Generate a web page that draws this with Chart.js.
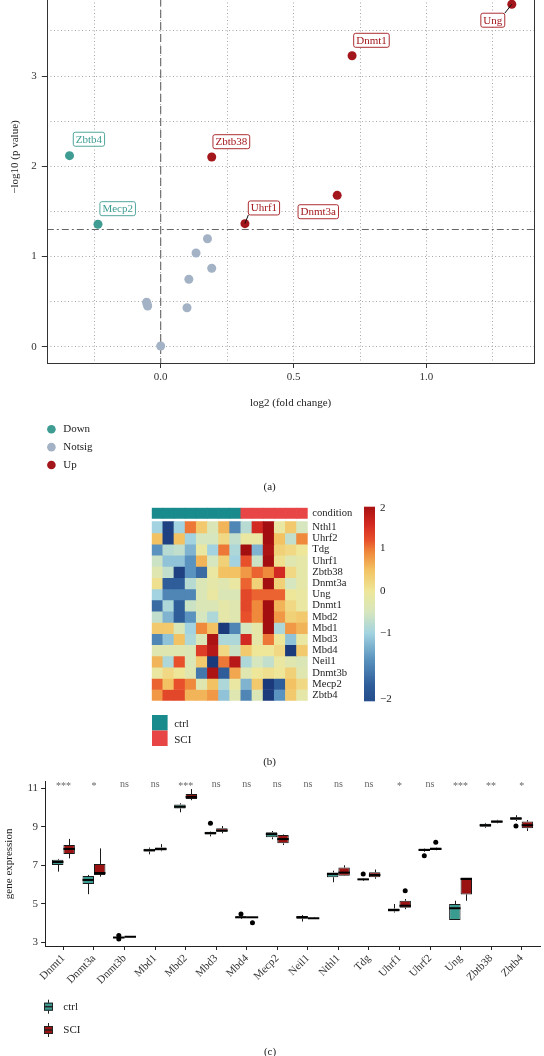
<!DOCTYPE html>
<html><head><meta charset="utf-8">
<script src="https://cdn.jsdelivr.net/npm/chart.js@4.4.1/dist/chart.umd.min.js"></script>
<style>
html,body{margin:0;padding:0;background:#fff;}
body{width:544px;height:1056px;position:relative;overflow:hidden;font-family:"Liberation Serif","Times New Roman",serif;color:#333;}
canvas{position:absolute;left:0;}
</style></head><body>
<canvas id="overlay" width="544" height="1056" style="top:0;width:544px;height:1056px"></canvas>
<canvas id="volcano" width="544" height="475" style="top:-60px;width:544px;height:475px"></canvas>
<canvas id="heat" width="544" height="275" style="top:495px;width:544px;height:275px"></canvas>
<canvas id="box" width="544" height="230" style="top:770px;width:544px;height:230px"></canvas>

<script>
// ================= DATA =================
// (a) volcano plot
const volGenes   = ['Ung','Dnmt1','Zbtb4','Zbtb38','Dnmt3a','Mecp2','Uhrf1','Tdg','Nthl1','Uhrf2','Mbd2','Mbd4','Neil1','Mbd1','Mbd3','Dnmt3b'];
const volLog2FC  = [1.321,0.720,-0.343,0.192,0.664,-0.236,0.317,0.176,0.133,0.192,0.106,-0.053,-0.049,-0.051,0.099,0.000];
const volNegLogP = [3.797,3.226,2.118,2.103,1.678,1.357,1.364,1.197,1.039,0.869,0.747,0.492,0.451,0.470,0.432,0.008];
const volStatus  = ['Up','Up','Down','Up','Up','Down','Up','Notsig','Notsig','Notsig','Notsig','Notsig','Notsig','Notsig','Notsig','Notsig'];
const volGroups  = ['Notsig','Down','Up'];
const volLegendOrder = ['Down','Notsig','Up'];
const volXTicks  = [0, 0.5, 1.0];
const volXGrid   = [-0.25, 0, 0.25, 0.5, 0.75, 1.0, 1.25];
const volYTicks  = [0, 1, 2, 3, 4];
const volYGrid   = [0, 0.5, 1, 1.5, 2, 2.5, 3, 3.5, 4];
const volPCut    = 1.3;
const volFCCut   = 0;

// (b) heatmap (z-scores), columns = samples
const sampleGroup = ['ctrl','ctrl','ctrl','ctrl','ctrl','ctrl','ctrl','ctrl','SCI','SCI','SCI','SCI','SCI','SCI'];
const conditionLevels = ['ctrl','SCI'];
const heatGenes = ['Nthl1','Uhrf2','Tdg','Uhrf1','Zbtb38','Dnmt3a','Ung','Dnmt1','Mbd2','Mbd1','Mbd3','Mbd4','Neil1','Dnmt3b','Mecp2','Zbtb4'];
const heatNthl1  = [-1.0,-2.2,-1.0, 1.0, 0.4,-0.4, 0.6,-1.5,-0.8, 1.6, 2.2,-0.1, 0.4,-0.5];
const heatUhrf2  = [ 0.5,-2.2, 0.5,-1.0,-0.5,-0.5, 0.2,-0.7,-0.1,-0.1, 2.1, 0.5,-0.7, 0.9];
const heatTdg    = [-1.4,-0.8,-0.7,-1.2,-0.1,-1.0, 1.0,-0.9, 2.1,-1.2, 2.0, 0.3, 0.2, 0.0];
const heatUhrf1  = [-0.6,-1.1,-1.1,-1.4, 0.6,-0.5, 0.3,-1.0, 1.2,-0.6, 2.1, 0.1,-0.3,-0.2];
const heatZbtb38 = [-0.3,-0.7,-2.2,-1.4,-1.7,-0.1, 0.5, 0.5, 0.8, 1.1, 0.9, 1.6, 0.2,-0.2];
const heatDnmt3a = [ 0.1,-1.8,-1.8,-0.8,-0.4,-0.2,-0.3,-0.1, 1.1, 0.3, 2.1, 0.3,-0.5,-0.2];
const heatUng    = [-1.0,-1.5,-1.5,-1.5,-0.4,-0.1,-0.4,-0.4, 1.3, 1.1, 1.1, 1.1, 0.0,-0.1];
const heatDnmt1  = [-1.7,-0.9,-1.8,-0.6,-0.4,-0.4,-0.2,-0.3, 1.3, 0.9, 2.1, 0.6, 0.2,-0.1];
const heatMbd2   = [-0.7,-1.2,-1.8,-1.4,-0.5,-0.9,-0.2,-0.3, 1.2, 0.9, 2.1, 0.8, 0.3, 0.4];
const heatMbd1   = [ 0.4, 0.4,-0.4,-1.0, 0.9, 0.5,-2.3,-1.5,-0.5,-0.2, 2.1,-0.9, 0.8, 0.6];
const heatMbd3   = [-1.5,-1.1, 0.5,-0.9,-0.4, 2.0,-0.9,-0.9, 1.6,-0.2, 1.0, 0.0,-1.1,-0.1];
const heatMbd4   = [-0.3,-0.3,-0.3,-0.4, 1.4, 1.9, 0.2,-0.6, 0.4, 0.0, 0.0, 0.2,-2.3, 0.4];
const heatNeil1  = [ 0.6,-0.9, 1.2,-0.4, 0.4,-2.3, 1.0, 1.9,-0.9,-0.5,-0.7,-0.1,-0.3,-0.4];
const heatDnmt3b = [-0.1, 0.2, 0.0,-0.3,-1.6, 2.0,-1.8, 0.7,-0.3, 0.0, 0.1, 0.0, 0.3,-0.3];
const heatMecp2  = [ 1.1, 0.5, 1.2, 0.9,-0.3, 0.5,-0.9,-0.1,-1.2, 0.4,-2.3,-1.8, 0.5, 0.2];
const heatZbtb4  = [ 0.8, 1.3, 1.3, 0.6, 0.6, 0.8,-1.1,-0.3,-1.5,-0.4,-2.3,-1.4, 0.4,-0.2];
const heatMatrix = [heatNthl1,heatUhrf2,heatTdg,heatUhrf1,heatZbtb38,heatDnmt3a,heatUng,heatDnmt1,heatMbd2,heatMbd1,heatMbd3,heatMbd4,heatNeil1,heatDnmt3b,heatMecp2,heatZbtb4];
const heatLegendTicks = [2, 1, 0, -1, -2];

// (c) boxplot
const boxGenes = ['Dnmt1','Dnmt3a','Dnmt3b','Mbd1','Mbd2','Mbd3','Mbd4','Mecp2','Neil1','Nthl1','Tdg','Uhrf1','Uhrf2','Ung','Zbtb38','Zbtb4'];
const ctrlLow  = [6.67,5.50,3.20,7.57, 9.75,8.50,4.22,8.35,4.08,6.12,6.20,4.55,7.70,4.16,8.95,9.30];
const ctrlQ1   = [7.02,6.03,3.22,7.71, 9.95,8.60,4.26,8.45,4.22,6.38,6.24,4.60,7.74,4.16,9.00,9.36];
const ctrlMed  = [7.17,6.24,3.25,7.78,10.04,8.67,4.30,8.62,4.30,6.55,6.27,4.68,7.80,4.77,9.08,9.43];
const ctrlQ3   = [7.29,6.44,3.28,7.86,10.16,8.74,4.35,8.72,4.37,6.63,6.30,4.76,7.86,4.99,9.16,9.50];
const ctrlHigh = [7.33,6.50,3.30,7.92,10.22,8.76,4.38,8.78,4.42,6.72,6.32,4.99,7.88,5.16,9.20,9.60];
const sciLow   = [7.36,6.41,3.26,7.73,10.38,8.66,4.28,8.05,4.22,6.45,6.30,4.72,7.78,5.16,9.18,8.78];
const sciQ1    = [7.59,6.50,3.27,7.77,10.44,8.74,4.29,8.14,4.23,6.46,6.38,4.80,7.80,5.49,9.21,8.92];
const sciMed   = [7.85,6.60,3.29,7.85,10.55,8.80,4.30,8.36,4.25,6.62,6.50,4.90,7.85,6.29,9.27,9.08];
const sciQ3    = [8.05,7.07,3.30,7.93,10.70,8.92,4.31,8.57,4.26,6.88,6.64,5.16,7.93,6.36,9.33,9.27];
const sciHigh  = [8.37,7.88,3.31,8.10,10.96,9.04,4.32,8.60,4.28,7.00,6.78,5.25,7.95,6.36,9.36,9.35];
const ctrlOutGene = ['Dnmt3b','Dnmt3b','Mbd3','Mbd4','Tdg','Uhrf2','Zbtb4'];
const ctrlOutVal  = [3.36,3.17,9.18,4.47,6.55,7.50,9.04];
const sciOutGene  = ['Mbd4','Uhrf1','Uhrf2'];
const sciOutVal   = [4.02,5.68,8.20];
const sigLabels = ['***','*','ns','ns','***','ns','ns','ns','ns','ns','ns','*','ns','***','**','*'];
const boxYTicks = [3, 5, 7, 9, 11];
const panelCaptions = ['(a)','(b)','(c)'];

// ================= STYLE =================
const FONT = '"Liberation Serif","Times New Roman",serif';
Chart.defaults.font.family = FONT;
Chart.defaults.color = '#333';
const volColors = {Down:'#3e9c92', Notsig:'#a3b2c4', Up:'#a3161b'};
const condColors = {ctrl:'#198b8d', SCI:'#e84646'};
const boxColors = {ctrl:'#3a9b91', SCI:'#9a1212'};
const heatStops = [[-2.3,[27,58,124]],[-1.8,[47,93,154]],[-1.4,[90,147,191]],[-1.0,[163,211,224]],[-0.5,[214,230,190]],[0,[238,231,154]],[0.5,[243,194,98]],[0.9,[239,138,60]],[1.2,[232,80,44]],[1.6,[210,42,34]],[2.1,[163,14,16]]];
function heatColor(v){
  if (v <= heatStops[0][0]) return 'rgb('+heatStops[0][1].join(',')+')';
  for (let i=1;i<heatStops.length;i++){
    if (v <= heatStops[i][0]){
      const [a,ca]=heatStops[i-1],[b,cb]=heatStops[i];
      const t=(v-a)/(b-a);
      return 'rgb('+ca.map((c,k)=>Math.round(c+(cb[k]-c)*t)).join(',')+')';
    }
  }
  return 'rgb('+heatStops[heatStops.length-1][1].join(',')+')';
}
const base = {responsive:false, animation:false, devicePixelRatio:1, events:[]};

// ================= legends & captions (overlay) =================
(function drawOverlay(){
  const ctx = document.getElementById('overlay').getContext('2d');
  ctx.font = '11px '+FONT; ctx.textBaseline='middle'; ctx.fillStyle='#222';
  // (a) legend
  volLegendOrder.forEach((g,i)=>{
    const cy = 429.3 + i*17.85;
    ctx.fillStyle = volColors[g]; ctx.beginPath(); ctx.arc(51.4, cy, 4.3, 0, Math.PI*2); ctx.fill();
    ctx.fillStyle = '#222'; ctx.textAlign='left'; ctx.fillText(g, 63.2, cy);
  });
  // (b) legend
  conditionLevels.forEach((c,i)=>{
    const top = 715 + i*15.5;
    ctx.fillStyle = condColors[c]; ctx.fillRect(152, top, 15.6, 15.5);
    ctx.fillStyle = '#222'; ctx.textAlign='left'; ctx.fillText(c, 174.2, top+9.3);
  });
  // (c) legend
  conditionLevels.forEach((c,i)=>{
    const cy = 1006.7 + i*23.3;
    ctx.strokeStyle='#222'; ctx.lineWidth=1;
    ctx.beginPath(); ctx.moveTo(48.5, cy-7); ctx.lineTo(48.5, cy+7); ctx.stroke();
    ctx.fillStyle = boxColors[c]; ctx.fillRect(44, cy-4, 9, 8);
    ctx.strokeRect(44.5, cy-3.5, 8, 7);
    ctx.lineWidth=1.5; ctx.beginPath(); ctx.moveTo(44, cy); ctx.lineTo(53, cy); ctx.stroke();
    ctx.fillStyle = '#222'; ctx.textAlign='left'; ctx.fillText(c, 63.3, cy);
  });
  // captions
  ctx.textAlign='center'; ctx.fillStyle='#222';
  ctx.fillText(panelCaptions[0], 269.6, 487.3);
  ctx.fillText(panelCaptions[1], 269.6, 762.3);
  ctx.fillText(panelCaptions[2], 270, 1051.7);
})();

// ================= (a) VOLCANO =================
const volcanoDecor = {
  id:'volcanoDecor',
  beforeDatasetsDraw(chart){
    const {ctx, chartArea:a, scales:{x,y}} = chart;
    ctx.save();
    ctx.beginPath(); ctx.rect(a.left,a.top,a.width,a.height); ctx.clip();
    ctx.strokeStyle='#666'; ctx.lineWidth=1.1;
    const px = x.getPixelForValue(volFCCut);
    ctx.setLineDash([8,4]); ctx.beginPath(); ctx.moveTo(px,a.top); ctx.lineTo(px,a.bottom); ctx.stroke();
    const py = y.getPixelForValue(volPCut);
    ctx.setLineDash([7,3,2,3]); ctx.beginPath(); ctx.moveTo(a.left,py); ctx.lineTo(a.right,py); ctx.stroke();
    ctx.restore();
  },
  afterDatasetsDraw(chart, args, opts){
    const {ctx, scales:{x,y}} = chart;
    ctx.save();
    ctx.font = '11px '+FONT;
    ctx.textAlign='center'; ctx.textBaseline='middle';
    volGenes.forEach((g,i)=>{
      if (volStatus[i]==='Notsig') return;
      const off = opts.offsets[g];
      const px = x.getPixelForValue(volLog2FC[i]), py = y.getPixelForValue(volNegLogP[i]);
      const cx = px+off[0], cy = py+off[1];
      const w = ctx.measureText(g).width + 5, h = 14;
      const l = cx-w/2, t = cy-h/2;
      const col = volColors[volStatus[i]];
      if (opts.segments.includes(g)){
        const nx = Math.max(l, Math.min(px, l+w)), ny = Math.max(t, Math.min(py, t+h));
        ctx.strokeStyle='#111'; ctx.lineWidth=1;
        ctx.beginPath(); ctx.moveTo(px,py); ctx.lineTo(nx,ny); ctx.stroke();
      }
      ctx.fillStyle='#fff'; ctx.strokeStyle=col; ctx.lineWidth=0.9;
      ctx.beginPath(); ctx.roundRect(l,t,w,h,2); ctx.fill(); ctx.stroke();
      ctx.fillStyle=col; ctx.fillText(g,cx,cy+0.5);
    });
    ctx.restore();
  },
  afterDraw(chart){
    const {ctx, chartArea:a} = chart;
    ctx.save(); ctx.strokeStyle='#333'; ctx.lineWidth=1;
    ctx.strokeRect(Math.round(a.left)+0.5, Math.round(a.top)+0.5, Math.round(a.width)-1, Math.round(a.height)-1);
    ctx.restore();
  }
};
const volTickColor = (arr)=> (c)=> (c.tick && arr.includes(c.tick.value)) ? '#333' : 'rgba(0,0,0,0)';
new Chart(document.getElementById('volcano'), {
  type:'scatter',
  data:{ datasets: volGroups.map(gr=>({
    label: gr,
    data: volGenes.map((g,i)=>({x:volLog2FC[i], y:volNegLogP[i], s:volStatus[i]})).filter(p=>p.s===gr),
    backgroundColor: volColors[gr], borderWidth:0, pointRadius:4.5
  }))},
  options:{...base,
    layout:{padding:{top:10, right:9.6, left:0, bottom:0}},
    plugins:{legend:{display:false}, tooltip:{enabled:false},
      volcanoDecor:{
        offsets:{Ung:[-19,16], Dnmt1:[19.4,-15.4], Zbtb4:[19.4,-16.4], Zbtb38:[19.6,-15.3], Mecp2:[19.7,-15.6], Uhrf1:[19,-15.7], Dnmt3a:[-18.9,16.4]},
        segments:['Ung','Uhrf1']
      }},
    scales:{
      x:{type:'linear', min:-0.4285, max:1.406,
        afterBuildTicks:s=>{s.ticks = volXGrid.map(v=>({value:v}));},
        afterFit:s=>{s.height=51; s.paddingLeft=0; s.paddingRight=0;},
        ticks:{autoSkip:false, maxRotation:0, minRotation:0, padding:2.5, color:'#333', font:{size:11},
          callback:v=> volXTicks.includes(v) ? v.toFixed(1) : ''},
        grid:{color:'#a6a6a6', lineWidth:1, tickLength:4, tickWidth:1, tickColor:volTickColor(volXTicks)},
        border:{display:false, dash:[1,2.5]},
        title:{display:true, text:'log2 (fold change)', color:'#222', font:{size:11}, padding:{top:0,bottom:5.7}}
      },
      y:{type:'linear', min:-0.192, max:4.398,
        afterBuildTicks:s=>{s.ticks = volYGrid.map(v=>({value:v}));},
        afterFit:s=>{s.width=46.8; s.paddingTop=0; s.paddingBottom=0;},
        ticks:{autoSkip:false, padding:5, color:'#333', font:{size:11},
          callback:v=> volYTicks.includes(v) ? String(v) : ''},
        grid:{color:'#a6a6a6', lineWidth:1, tickLength:5, tickWidth:1, tickColor:volTickColor(volYTicks)},
        border:{display:false, dash:[1,2.5]},
        title:{display:true, text:'\u2212log10 (p value)', color:'#222', font:{size:11}, padding:{top:8.4,bottom:0}}
      }
    }
  },
  plugins:[volcanoDecor]
});

// ================= (b) HEATMAP =================
const heatLegend = {
  id:'heatLegend',
  afterDraw(chart, args, opts){
    const {ctx} = chart;
    const L = opts.left, T = opts.top, W = opts.width, H = opts.height;
    const pos = opts.positions; // fractional positions of heatLegendTicks
    const valAt = f=>{
      if (f<=pos[0]) return heatLegendTicks[0];
      for (let i=1;i<pos.length;i++) if (f<=pos[i]){ const t=(f-pos[i-1])/(pos[i]-pos[i-1]); return heatLegendTicks[i-1]+(heatLegendTicks[i]-heatLegendTicks[i-1])*t; }
      return heatLegendTicks[heatLegendTicks.length-1];
    };
    ctx.save();
    const n = Math.round(H);
    for (let k=0;k<n;k++){ ctx.fillStyle=heatColor(valAt((k+0.5)/n)); ctx.fillRect(L, T+k*H/n, W, H/n+0.6); }
    ctx.fillStyle='#222'; ctx.font='11px '+FONT; ctx.textAlign='left'; ctx.textBaseline='middle';
    heatLegendTicks.forEach((v,i)=>{ ctx.fillText(v<0 ? '\u2212'+Math.abs(v) : String(v), L+W+5, T+pos[i]*H); });
    ctx.restore();
  }
};
const heatLabels = ['condition'].concat(heatGenes);
const heatDatasets = [{
  label:'condition',
  data: sampleGroup.map((c,j)=>({x:j, y:[-1.25,-0.3]})),
  backgroundColor: sampleGroup.map(c=>condColors[c]),
  grouped:false, barPercentage:1, categoryPercentage:1, borderWidth:0
}].concat(heatMatrix.map((row,i)=>({
  label: heatGenes[i],
  data: row.map((v,j)=>({x:j, y:[i,i+1]})),
  backgroundColor: row.map(heatColor),
  grouped:false, barPercentage:1, categoryPercentage:1, borderWidth:0
})));
new Chart(document.getElementById('heat'), {
  type:'bar',
  data:{datasets:heatDatasets},
  options:{...base,
    layout:{padding:{left:151.7, top:12.7, bottom:69.3, right:0}},
    plugins:{legend:{display:false}, tooltip:{enabled:false},
      heatLegend:{left:364, top:11.7, width:11, height:194, positions:[0.007,0.214,0.435,0.652,0.99]}},
    scales:{
      x:{type:'linear', min:-0.5, max:sampleGroup.length-0.5, display:false, offset:false, grid:{offset:false}},
      y:{type:'linear', position:'right', reverse:true, min:-1.25, max:heatGenes.length,
        afterBuildTicks:s=>{s.ticks = [{value:-0.775}].concat(heatGenes.map((g,i)=>({value:i+0.5})));},
        afterFit:s=>{s.width=236.3; s.paddingTop=0; s.paddingBottom=0;},
        ticks:{autoSkip:false, padding:4.6, color:'#222', font:{size:10.6}, callback:(v,i)=>heatLabels[i]},
        grid:{display:false, drawTicks:false}, border:{display:false}
      }
    }
  },
  plugins:[heatLegend]
});

// ================= (c) BOXPLOT =================
const boxDecor = {
  id:'boxDecor',
  beforeDatasetsDraw(chart){
    const {ctx, scales:{y}} = chart;
    ctx.save(); ctx.strokeStyle='#1a1a1a'; ctx.lineWidth=1;
    [[ctrlLow,ctrlQ1,ctrlQ3,ctrlHigh],[sciLow,sciQ1,sciQ3,sciHigh]].forEach((arr,d)=>{
      const meta = chart.getDatasetMeta(d);
      meta.data.forEach((el,i)=>{
        const x = Math.round(el.x)+0.5;
        ctx.beginPath();
        ctx.moveTo(x, y.getPixelForValue(arr[0][i])); ctx.lineTo(x, y.getPixelForValue(arr[1][i]));
        ctx.moveTo(x, y.getPixelForValue(arr[2][i])); ctx.lineTo(x, y.getPixelForValue(arr[3][i]));
        ctx.stroke();
      });
    });
    ctx.restore();
  },
  afterDatasetsDraw(chart, args, opts){
    const {ctx, scales:{x,y}} = chart;
    ctx.save(); ctx.strokeStyle='#000'; ctx.lineWidth=2;
    [ctrlMed, sciMed].forEach((med,d)=>{
      const meta = chart.getDatasetMeta(d);
      meta.data.forEach((el,i)=>{
        const py = y.getPixelForValue(med[i]);
        ctx.beginPath(); ctx.moveTo(el.x-el.width/2, py); ctx.lineTo(el.x+el.width/2, py); ctx.stroke();
      });
    });
    ctx.fillStyle='#666'; ctx.font='10px '+FONT; ctx.textAlign='center'; ctx.textBaseline='middle';
    sigLabels.forEach((s,i)=>{
      const py = y.getPixelForValue(opts.labelY) + (s==='ns' ? 0 : 2);
      ctx.fillText(s, x.getPixelForValue(i), py);
    });
    ctx.restore();
  }
};
const dodge = 0.1875;
new Chart(document.getElementById('box'), {
  type:'bar',
  data:{datasets:[
    {label:'ctrl', data: boxGenes.map((g,i)=>({x:i, y:[ctrlQ1[i], ctrlQ3[i]]})), backgroundColor:boxColors.ctrl, borderColor:'#1a1a1a', borderWidth:1, borderSkipped:false, categoryPercentage:0.75, barPercentage:1},
    {label:'SCI',  data: boxGenes.map((g,i)=>({x:i, y:[sciQ1[i], sciQ3[i]]})), backgroundColor:boxColors.SCI, borderColor:'#1a1a1a', borderWidth:1, borderSkipped:false, categoryPercentage:0.75, barPercentage:1},
    {type:'scatter', label:'ctrl outliers', data: ctrlOutGene.map((g,k)=>({x:boxGenes.indexOf(g)-dodge, y:ctrlOutVal[k]})), backgroundColor:'#000', borderWidth:0, pointRadius:2.5},
    {type:'scatter', label:'SCI outliers', data: sciOutGene.map((g,k)=>({x:boxGenes.indexOf(g)+dodge, y:sciOutVal[k]})), backgroundColor:'#000', borderWidth:0, pointRadius:2.5}
  ]},
  options:{...base,
    layout:{padding:{top:11.7, right:1, left:0, bottom:0}},
    plugins:{legend:{display:false}, tooltip:{enabled:false}, boxDecor:{labelY:11.2}},
    scales:{
      x:{type:'linear', min:-0.6, max:boxGenes.length-0.4, offset:false,
        afterBuildTicks:s=>{s.ticks = boxGenes.map((g,i)=>({value:i}));},
        afterFit:s=>{s.height=54; s.paddingLeft=0; s.paddingRight=0;},
        ticks:{autoSkip:false, minRotation:45, maxRotation:45, padding:2, color:'#333', font:{size:11}, callback:v=>boxGenes[v]},
        grid:{offset:false, drawOnChartArea:false, drawTicks:true, tickLength:4, tickColor:'#222'},
        border:{display:true, color:'#222', width:1}
      },
      y:{type:'linear', min:2.81, max:11.34,
        afterBuildTicks:s=>{s.ticks = boxYTicks.map(v=>({value:v}));},
        afterFit:s=>{s.width=45.1; s.paddingTop=0; s.paddingBottom=0;},
        ticks:{autoSkip:false, padding:3, color:'#333', font:{size:11}},
        grid:{drawOnChartArea:false, drawTicks:true, tickLength:4, tickColor:'#222'},
        border:{display:true, color:'#222', width:1},
        title:{display:true, text:'gene expression', color:'#222', font:{size:11}, padding:{top:2.1,bottom:0}}
      }
    }
  },
  plugins:[boxDecor]
});
</script>
</body></html>
